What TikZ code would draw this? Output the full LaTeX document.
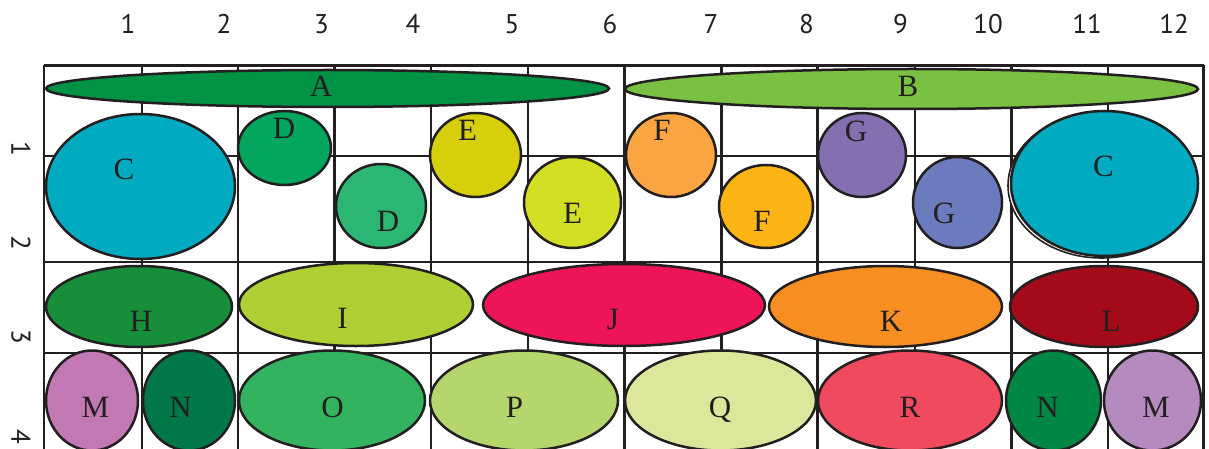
\documentclass[tikz,border=0pt]{standalone}
\usepackage{fontspec}
\setmainfont{Liberation Serif}
\newfontfamily\numfont{PT Sans}
\usetikzlibrary{shapes.geometric}
\definecolor{ink}{HTML}{231F20}
\definecolor{cA}{HTML}{009245}
\definecolor{cB}{HTML}{7AC143}
\definecolor{cC}{HTML}{00ABC1}
\definecolor{cDa}{HTML}{00A65D}
\definecolor{cDb}{HTML}{2BB673}
\definecolor{cEa}{HTML}{D7CE0C}
\definecolor{cEb}{HTML}{D3DF24}
\definecolor{cFa}{HTML}{FAA541}
\definecolor{cFb}{HTML}{FDB515}
\definecolor{cGa}{HTML}{866FB1}
\definecolor{cGb}{HTML}{6C7BBD}
\definecolor{cH}{HTML}{168E3A}
\definecolor{cI}{HTML}{AFD035}
\definecolor{cJ}{HTML}{ED1557}
\definecolor{cK}{HTML}{F68E22}
\definecolor{cL}{HTML}{A30B1A}
\definecolor{cMa}{HTML}{C278B2}
\definecolor{cNa}{HTML}{007747}
\definecolor{cO}{HTML}{33B35F}
\definecolor{cP}{HTML}{B4D66C}
\definecolor{cQ}{HTML}{DCE79C}
\definecolor{cR}{HTML}{EF4A5E}
\definecolor{cNb}{HTML}{008744}
\definecolor{cMb}{HTML}{B48ABF}
\begin{document}
\begin{tikzpicture}[x=1pt,y=-1pt,
  gridline/.style={draw=ink, line width=2.2pt},
  blob/.style={ellipse, draw=ink, line width=2.5pt, inner sep=0pt},
  lbl/.style={anchor=base, inner sep=0pt, text=ink, font=\fontsize{31}{31}\selectfont},
  num/.style={anchor=base, inner sep=0pt, text=ink, font=\numfont\fontsize{27}{27}\selectfont},
  sidenum/.style={inner sep=0pt, text=ink, rotate=-90, font=\numfont\fontsize{27}{27}\selectfont}]
\useasboundingbox (0,0) rectangle (1209,449);
\clip (0,0) rectangle (1209,449);
% grid
\foreach \x in {44,142,238,334.5,431,528,624.5,721.5,817.5,915,1011.5,1108,1203.5}
  \draw[gridline] (\x,65.5) -- (\x,449);
\foreach \y in {65.5,156,262,353}
  \draw[gridline] (44,\y) -- (1203.5,\y);
% column numbers
\node[num] (n1) at (128,34) {1};
\node[num] (n2) at (224,34) {2};
\node[num] (n3) at (321.5,34) {3};
\node[num] (n4) at (413,34) {4};
\node[num] (n5) at (512,34) {5};
\node[num] (n6) at (610,34) {6};
\node[num] (n7) at (711,34) {7};
\node[num] (n8) at (806.5,34) {8};
\node[num] (n9) at (900.5,34) {9};
\node[num] (n10) at (988,34) {10};
\node[num] (n11) at (1087,34) {11};
\node[num] (n12) at (1174,34) {12};
% row numbers
\node[sidenum] (r1) at (21,149) {1};
\node[sidenum] (r2) at (21,243) {2};
\node[sidenum] (r3) at (21,337) {3};
\node[sidenum] (r4) at (21,437) {4};
% row 0
\node[blob, fill=cA, minimum width=563pt, minimum height=37pt] (A) at (327.5,88.5) {};
\node[blob, fill=cB, minimum width=573pt, minimum height=40pt] (B) at (911.5,89) {};
% rows 1-2
\node[blob, fill=cC, minimum width=189pt, minimum height=145pt] (C1) at (140.5,186.5) {};
\node[blob, fill=cDa, minimum width=93pt, minimum height=74pt] (D1) at (284.5,148) {};
\node[blob, fill=cDb, minimum width=90pt, minimum height=84pt] (D2) at (381,206) {};
\node[blob, fill=cEa, minimum width=91pt, minimum height=84pt] (E1) at (475.5,155) {};
\node[blob, fill=cEb, minimum width=97pt, minimum height=91pt] (E2) at (572.5,202.5) {};
\node[blob, fill=cFa, minimum width=90pt, minimum height=84pt] (F1) at (671,155) {};
\node[blob, fill=cFb, minimum width=94pt, minimum height=83pt] (F2) at (766,206.5) {};
\node[blob, fill=cGa, minimum width=88pt, minimum height=84pt] (G1) at (862,155) {};
\node[blob, fill=cGb, minimum width=89pt, minimum height=91pt] (G2) at (957.5,202.5) {};
\node[blob, fill=white, line width=1.6pt, minimum width=187pt, minimum height=145pt] (C2b) at (1101.5,185.5) {};
\node[blob, fill=cC, minimum width=187pt, minimum height=145pt] (C2) at (1104.5,183.5) {};
% row 3
\node[blob, fill=cH, minimum width=186pt, minimum height=81pt] (H) at (139,306.5) {};
\node[blob, fill=cI, minimum width=234pt, minimum height=83pt] (I) at (356,304.5) {};
\node[blob, fill=cJ, minimum width=282pt, minimum height=82pt] (J) at (624,305) {};
\node[blob, fill=cK, minimum width=233pt, minimum height=81pt] (K) at (885.5,306.5) {};
\node[blob, fill=cL, minimum width=188pt, minimum height=81pt] (L) at (1104,306.5) {};
% row 4
\node[blob, fill=cMa, minimum width=92pt, minimum height=100pt] (M1) at (92,400.5) {};
\node[blob, fill=cNa, minimum width=92pt, minimum height=100pt] (N1) at (189,400.5) {};
\node[blob, fill=cO, minimum width=186pt, minimum height=100pt] (O) at (332,400.5) {};
\node[blob, fill=cP, minimum width=188pt, minimum height=100pt] (P) at (524,400.5) {};
\node[blob, fill=cQ, minimum width=191pt, minimum height=100pt] (Q) at (720.5,400.5) {};
\node[blob, fill=cR, minimum width=184pt, minimum height=100pt] (R) at (910,400.5) {};
\node[blob, fill=cNb, minimum width=95pt, minimum height=100pt] (N2) at (1053.5,400.5) {};
\node[blob, fill=cMb, minimum width=97pt, minimum height=100pt] (M2) at (1152.5,400.5) {};
% labels
\node[lbl] (tA) at (321,97) {A};
\node[lbl] (tB) at (908,97) {B};
\node[lbl] (tC1) at (124,180) {C};
\node[lbl] (tD1) at (284,139) {D};
\node[lbl] (tD2) at (388,231) {D};
\node[lbl] (tE1) at (467.5,141) {E};
\node[lbl] (tE2) at (572.5,223) {E};
\node[lbl] (tF1) at (662,141) {F};
\node[lbl] (tF2) at (762,231) {F};
\node[lbl] (tG1) at (856,142) {G};
\node[lbl] (tG2) at (944,223) {G};
\node[lbl] (tC2) at (1103.5,177) {C};
\node[lbl] (tH) at (141,331) {H};
\node[lbl] (tI) at (342.5,328) {I};
\node[lbl] (tJ) at (613,329) {J};
\node[lbl] (tK) at (891,331) {K};
\node[lbl] (tL) at (1111,331) {L};
\node[lbl] (tM1) at (95.5,417) {M};
\node[lbl] (tN1) at (180.5,417) {N};
\node[lbl] (tO) at (332.5,417) {O};
\node[lbl] (tP) at (514.5,417) {P};
\node[lbl] (tQ) at (720,417) {Q};
\node[lbl] (tR) at (910,417) {R};
\node[lbl] (tN2) at (1047.5,417) {N};
\node[lbl] (tM2) at (1156,417) {M};
\end{tikzpicture}
\end{document}
